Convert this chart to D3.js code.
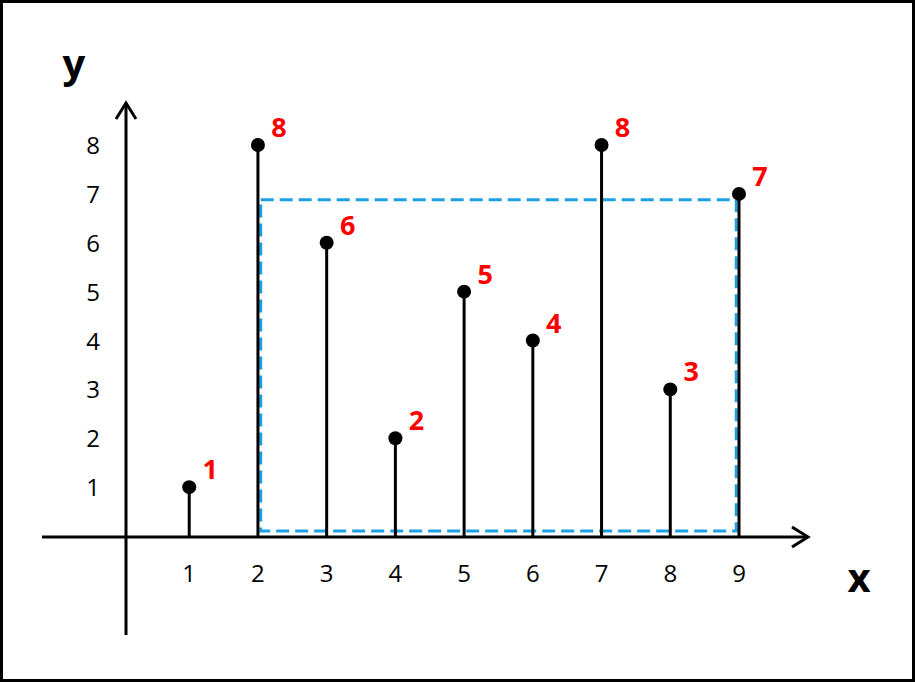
<!DOCTYPE html>
<html><head><meta charset="utf-8">
<script src="https://cdn.jsdelivr.net/npm/d3@7"></script>
<style>body{margin:0;background:#fff}</style></head>
<body><svg id="c" width="915" height="682"></svg>
<script>
const xs = [1,2,3,4,5,6,7,8,9];
const ys = [1,8,6,2,5,4,8,3,7];
const yTicks = [1,2,3,4,5,6,7,8];
const rectBox = {x0:2.04, x1:8.96, y0:0.1, y1:6.88};

const svg = d3.select("#c");
const x = d3.scaleLinear().domain([0,9]).range([120.5,739]);
const y = d3.scaleLinear().domain([0,8]).range([536,145]);
const font = "'Open Sans', 'Noto Sans', sans-serif";

svg.append("rect").attr("x",1.5).attr("y",1.5).attr("width",912).attr("height",679)
  .attr("fill","#fff").attr("stroke","#000").attr("stroke-width",3);

svg.append("line").attr("x1",42).attr("x2",808).attr("y1",537).attr("y2",537).attr("stroke","#000").attr("stroke-width",3);
svg.append("path").attr("d","M792,527 L808,537 L792,547").attr("fill","none").attr("stroke","#000").attr("stroke-width",3);
svg.append("line").attr("x1",126).attr("x2",126).attr("y1",635).attr("y2",103).attr("stroke","#000").attr("stroke-width",3);
svg.append("path").attr("d","M116,119 L126,103 L136,119").attr("fill","none").attr("stroke","#000").attr("stroke-width",3);

svg.selectAll(".xt").data(xs).join("text").attr("x",d=>x(d)).attr("y",582)
  .attr("text-anchor","middle").attr("font-family",font).attr("font-size",24).text(d=>d);
svg.selectAll(".yt").data(yTicks).join("text").attr("x",93).attr("y",d=>y(d)+9)
  .attr("text-anchor","middle").attr("font-family",font).attr("font-size",24).text(d=>d);

svg.append("text").attr("x",859).attr("y",592).attr("text-anchor","middle").attr("font-family",font)
  .attr("font-weight","bold").attr("font-size",40).text("x");
svg.append("text").attr("x",74).attr("y",78).attr("text-anchor","middle").attr("font-family",font)
  .attr("font-weight","bold").attr("font-size",40).text("y");

svg.append("rect").attr("x",x(rectBox.x0)).attr("y",y(rectBox.y1))
  .attr("width",x(rectBox.x1)-x(rectBox.x0)).attr("height",y(rectBox.y0)-y(rectBox.y1))
  .attr("fill","none").attr("stroke","#1ba1e2").attr("stroke-width",3).attr("stroke-dasharray","13,6");

const data = xs.map((d,i)=>({x:d,y:ys[i]}));
svg.selectAll(".stem").data(data).join("line").attr("x1",d=>x(d.x)).attr("x2",d=>x(d.x))
  .attr("y1",y(0)).attr("y2",d=>y(d.y)).attr("stroke","#000").attr("stroke-width",3);
svg.selectAll(".dot").data(data).join("circle").attr("cx",d=>x(d.x)).attr("cy",d=>y(d.y)).attr("r",7).attr("fill","#000");
svg.selectAll(".lab").data(data).join("text").attr("x",d=>x(d.x)+21).attr("y",d=>y(d.y)-8)
  .attr("text-anchor","middle").attr("font-family",font).attr("font-weight","bold").attr("font-size",27)
  .attr("fill","#ff0000").text(d=>d.y);
</script></body></html>
